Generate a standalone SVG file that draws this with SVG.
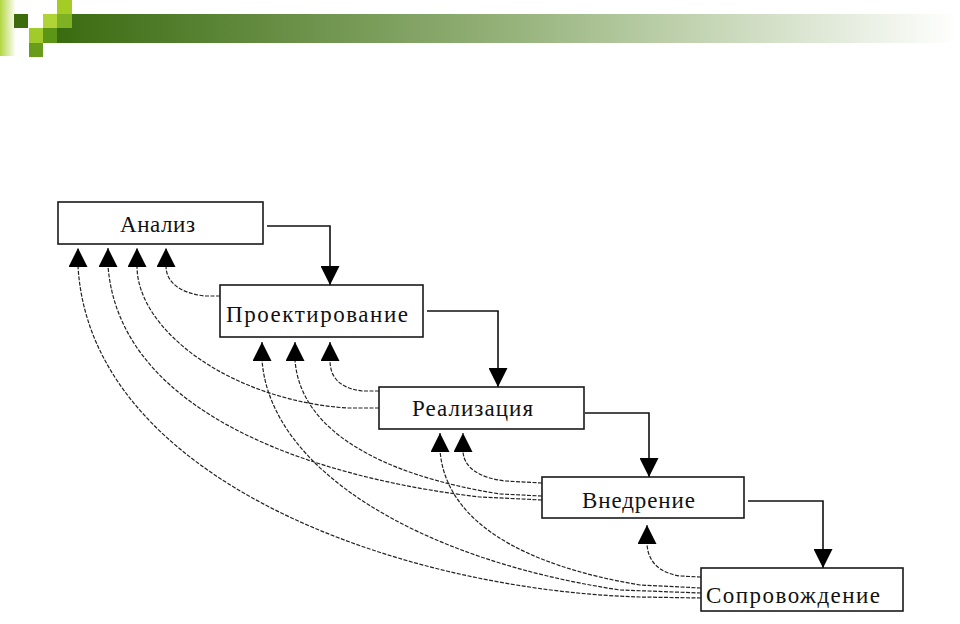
<svg xmlns="http://www.w3.org/2000/svg" width="960" height="624" viewBox="0 0 960 624">
  <defs>
    <linearGradient id="bar" x1="0" y1="0" x2="1" y2="0">
      <stop offset="0" stop-color="#3a6b10"/>
      <stop offset="0.5" stop-color="#95b27a"/>
      <stop offset="0.72" stop-color="#c4d5b4"/>
      <stop offset="1" stop-color="#ffffff"/>
    </linearGradient>
    <linearGradient id="strip" x1="0" y1="0" x2="1" y2="0">
      <stop offset="0" stop-color="#b2d640"/>
      <stop offset="1" stop-color="#ffffff"/>
    </linearGradient>
    <marker id="ah" viewBox="0 0 19 19" refX="19" refY="9.5" markerWidth="19" markerHeight="19" markerUnits="userSpaceOnUse" orient="auto">
      <polygon points="0,0 19,9.5 0,19" fill="#000"/>
    </marker>
    <style>
      .box { fill: #fff; stroke: #1a1a1a; stroke-width: 1.6; }
      .lbl { font-family: "Liberation Serif", "Times New Roman", serif; font-size: 23px; fill: #111; text-anchor: middle; }
      .fwd { fill: none; stroke: #111; stroke-width: 1.6; marker-end: url(#ah); }
      .back { fill: none; stroke: #222; stroke-width: 1.2; stroke-dasharray: 4 1.5; marker-end: url(#ah); }
    </style>
  </defs>

  <g id="header">
    <rect x="0" y="0" width="16" height="56" fill="url(#strip)"/>
    <rect x="57" y="14" width="900" height="29" fill="url(#bar)"/>
    <rect x="14" y="14" width="14" height="14" fill="#3c6c0c"/>
    <rect x="57" y="0" width="15" height="14" fill="#a3cd24"/>
    <rect x="43" y="14" width="14" height="14" fill="#b0d438"/>
    <rect x="57" y="14" width="15" height="14" fill="#7fb222"/>
    <rect x="29" y="28" width="14" height="15" fill="#a0cb2a"/>
    <rect x="43" y="28" width="14" height="15" fill="#5d9617"/>
    <rect x="29" y="43" width="14" height="14" fill="#6a9c1c"/>
  </g>

  <g id="connectors">
    <path class="fwd" d="M267,226 H330 V285"/>
    <path class="fwd" d="M427,311 H498 V387"/>
    <path class="fwd" d="M585,413 H649 V477"/>
    <path class="fwd" d="M748,501 H823 V568"/>

    <path class="back" d="M220,296 L205,296 C185,294 166,285 166,266 L166,248"/>
    <path class="back" d="M379,408 L347,408 C230,400 137,330 137,266 L137,248"/>
    <path class="back" d="M542,500 L480,497 C330,480 120,420 108,266 L108,248"/>
    <path class="back" d="M701,598 L640,597 C400,590 90,480 78,266 L78,248"/>

    <path class="back" d="M379,391 L362,391 C340,388 330,378 330,360 L330,342"/>
    <path class="back" d="M542,496 L500,494 C380,475 300,430 295,360 L295,342"/>
    <path class="back" d="M701,593 L620,590 C420,560 270,470 262,360 L262,342"/>

    <path class="back" d="M542,483 L505,481 C480,478 463,468 463,450 L463,433"/>
    <path class="back" d="M701,588 L640,585 C520,565 445,520 440,450 L440,433"/>

    <path class="back" d="M701,577 L680,576 C660,573 647,562 647,542 L647,525"/>
  </g>

  <g id="node-analiz">
    <rect class="box" x="58" y="202" width="205" height="42"/>
    <text class="lbl" x="157.5" y="232" textLength="75" lengthAdjust="spacing">Анализ</text>
  </g>
  <g id="node-proektirovanie">
    <rect class="box" x="220" y="285" width="203" height="52"/>
    <text class="lbl" x="317" y="322" textLength="182" lengthAdjust="spacing">Проектирование</text>
  </g>
  <g id="node-realizaciya">
    <rect class="box" x="379" y="387" width="205" height="42"/>
    <text class="lbl" x="472.5" y="416" textLength="121" lengthAdjust="spacing">Реализация</text>
  </g>
  <g id="node-vnedrenie">
    <rect class="box" x="542" y="477" width="202" height="41"/>
    <text class="lbl" x="638.5" y="508" textLength="113" lengthAdjust="spacing">Внедрение</text>
  </g>
  <g id="node-soprovozhdenie">
    <rect class="box" x="701" y="568" width="202" height="43"/>
    <text class="lbl" x="793" y="603" textLength="174" lengthAdjust="spacing">Сопровождение</text>
  </g>
</svg>
